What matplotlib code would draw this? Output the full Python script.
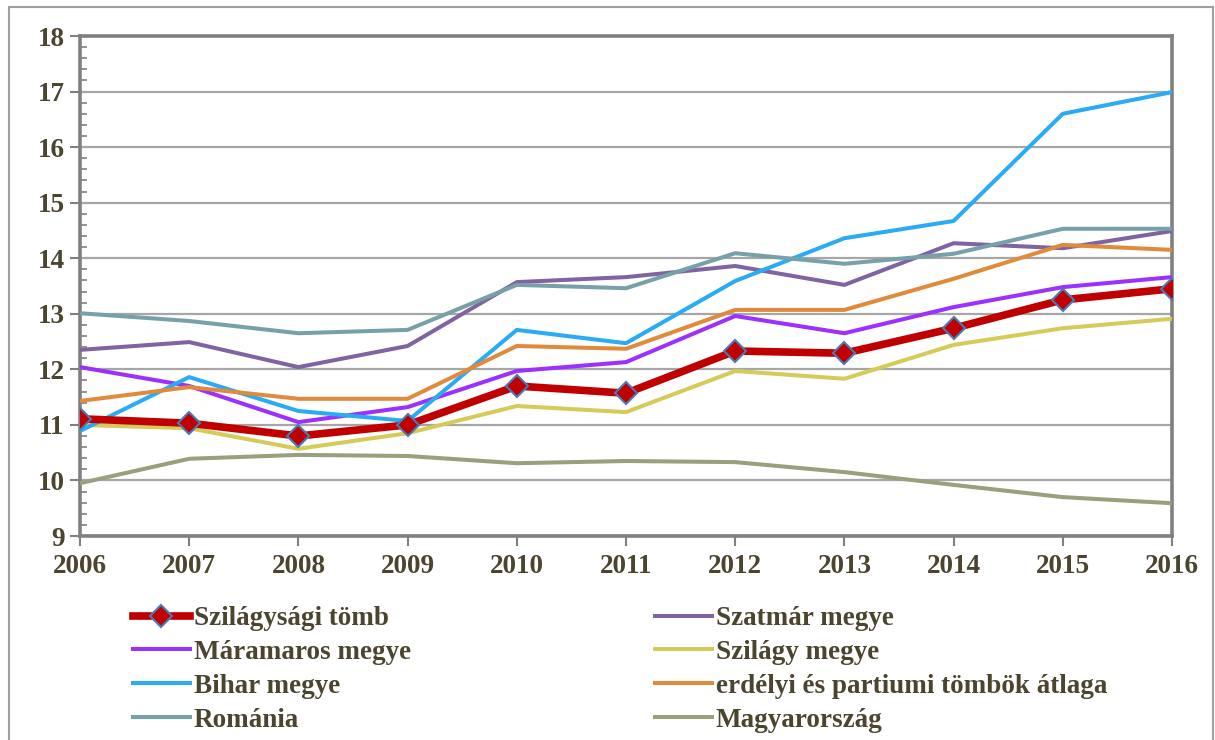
import matplotlib
matplotlib.use("Agg")
import matplotlib.pyplot as plt
from matplotlib.patches import Rectangle
from matplotlib.ticker import MultipleLocator

plt.rcParams['font.family'] = ['Liberation Serif', 'DejaVu Serif']
plt.rcParams['font.weight'] = 'bold'

# adatok
years = [2006, 2007, 2008, 2009, 2010, 2011, 2012, 2013, 2014, 2015, 2016]
szilagysagi_tomb = [11.11, 11.03, 10.80, 11.00, 11.70, 11.57, 12.33, 12.29, 12.74, 13.25, 13.45]
szatmar = [12.35, 12.49, 12.04, 12.42, 13.57, 13.66, 13.86, 13.52, 14.27, 14.18, 14.49]
maramaros = [12.04, 11.70, 11.05, 11.32, 11.97, 12.13, 12.96, 12.65, 13.12, 13.48, 13.66]
szilagy = [11.00, 10.94, 10.57, 10.85, 11.34, 11.23, 11.97, 11.83, 12.44, 12.74, 12.91]
bihar = [10.89, 11.86, 11.25, 11.07, 12.71, 12.47, 13.59, 14.36, 14.67, 16.60, 16.99]
erdelyi_atlag = [11.43, 11.68, 11.47, 11.47, 12.42, 12.37, 13.07, 13.07, 13.63, 14.24, 14.15]
romania = [13.01, 12.87, 12.65, 12.71, 13.52, 13.46, 14.09, 13.90, 14.08, 14.53, 14.53]
magyarorszag = [9.95, 10.39, 10.46, 10.44, 10.31, 10.35, 10.33, 10.15, 9.92, 9.70, 9.59]

txt = '#4b4530'
gridc = '#a6a6a6'

fig = plt.figure(figsize=(12.15, 7.4), dpi=100)
ax = fig.add_axes([80/1215, 1 - 536/740, (1172 - 80)/1215, 500/740])

series = [
    ('Szatmár megye', szatmar, '#8064a2'),
    ('Máramaros megye', maramaros, '#9b30ff'),
    ('Szilágy megye', szilagy, '#d4cb58'),
    ('Bihar megye', bihar, '#29abf5'),
    ('erdélyi és partiumi tömbök átlaga', erdelyi_atlag, '#e08a3c'),
    ('Románia', romania, '#78a0a8'),
    ('Magyarország', magyarorszag, '#98a07e'),
]
handles = {}
for name, vals, col in series:
    h, = ax.plot(years, vals, color=col, lw=2.9, label=name, zorder=3)
    handles[name] = h
h, = ax.plot(years, szilagysagi_tomb, color='#c00000', lw=5.5, marker='D', ms=11,
             mfc='#c00000', mec='#4a7ab5', mew=1.5, label='Szilágysági tömb', zorder=5)
handles['Szilágysági tömb'] = h

ax.set_xlim(2006, 2016)
ax.set_ylim(9, 18)
ax.set_xticks(years)
ax.set_yticks(range(9, 19))
ax.yaxis.set_minor_locator(MultipleLocator(0.2))
ax.grid(axis='y', which='major', color=gridc, lw=1.6, zorder=1)
for s in ax.spines.values():
    s.set_color('#808080')
    s.set_linewidth(2.6)
ax.tick_params(axis='y', which='major', direction='out', length=7, width=1.5,
               color='#808080', labelsize=19.5, labelcolor=txt, pad=4)
ax.tick_params(axis='y', which='minor', direction='in', length=5, width=1.2,
               color='#808080')
ax.tick_params(axis='x', which='major', direction='out', length=7, width=1.5,
               color='#808080', labelsize=19.5, labelcolor=txt, pad=6)
for lab in ax.get_xticklabels() + ax.get_yticklabels():
    lab.set_fontweight('bold')

# jelmagyarázat két oszlopban
col1 = ['Szilágysági tömb', 'Máramaros megye', 'Bihar megye', 'Románia']
col2 = ['Szatmár megye', 'Szilágy megye', 'erdélyi és partiumi tömbök átlaga', 'Magyarország']
for names, x0 in [(col1, 133/1215), (col2, 655/1215)]:
    leg = fig.legend([handles[n] for n in names], names, loc='upper left',
                     bbox_to_anchor=(x0, 1 - 606/740), frameon=False,
                     prop={'family': 'Liberation Serif', 'weight': 'bold', 'size': 19.5},
                     handlelength=2.1, handletextpad=0.15, labelspacing=0.33,
                     borderpad=0, borderaxespad=0)
    for t in leg.get_texts():
        t.set_color(txt)

# külső keret
fig.patches.append(Rectangle((9/1215, -0.01), (1213 - 9)/1215, 1 - 7/740 + 0.01,
                             transform=fig.transFigure, fill=False,
                             edgecolor='#a0a0a0', lw=1.5, clip_on=False))

fig.savefig('out.png', dpi=100)
